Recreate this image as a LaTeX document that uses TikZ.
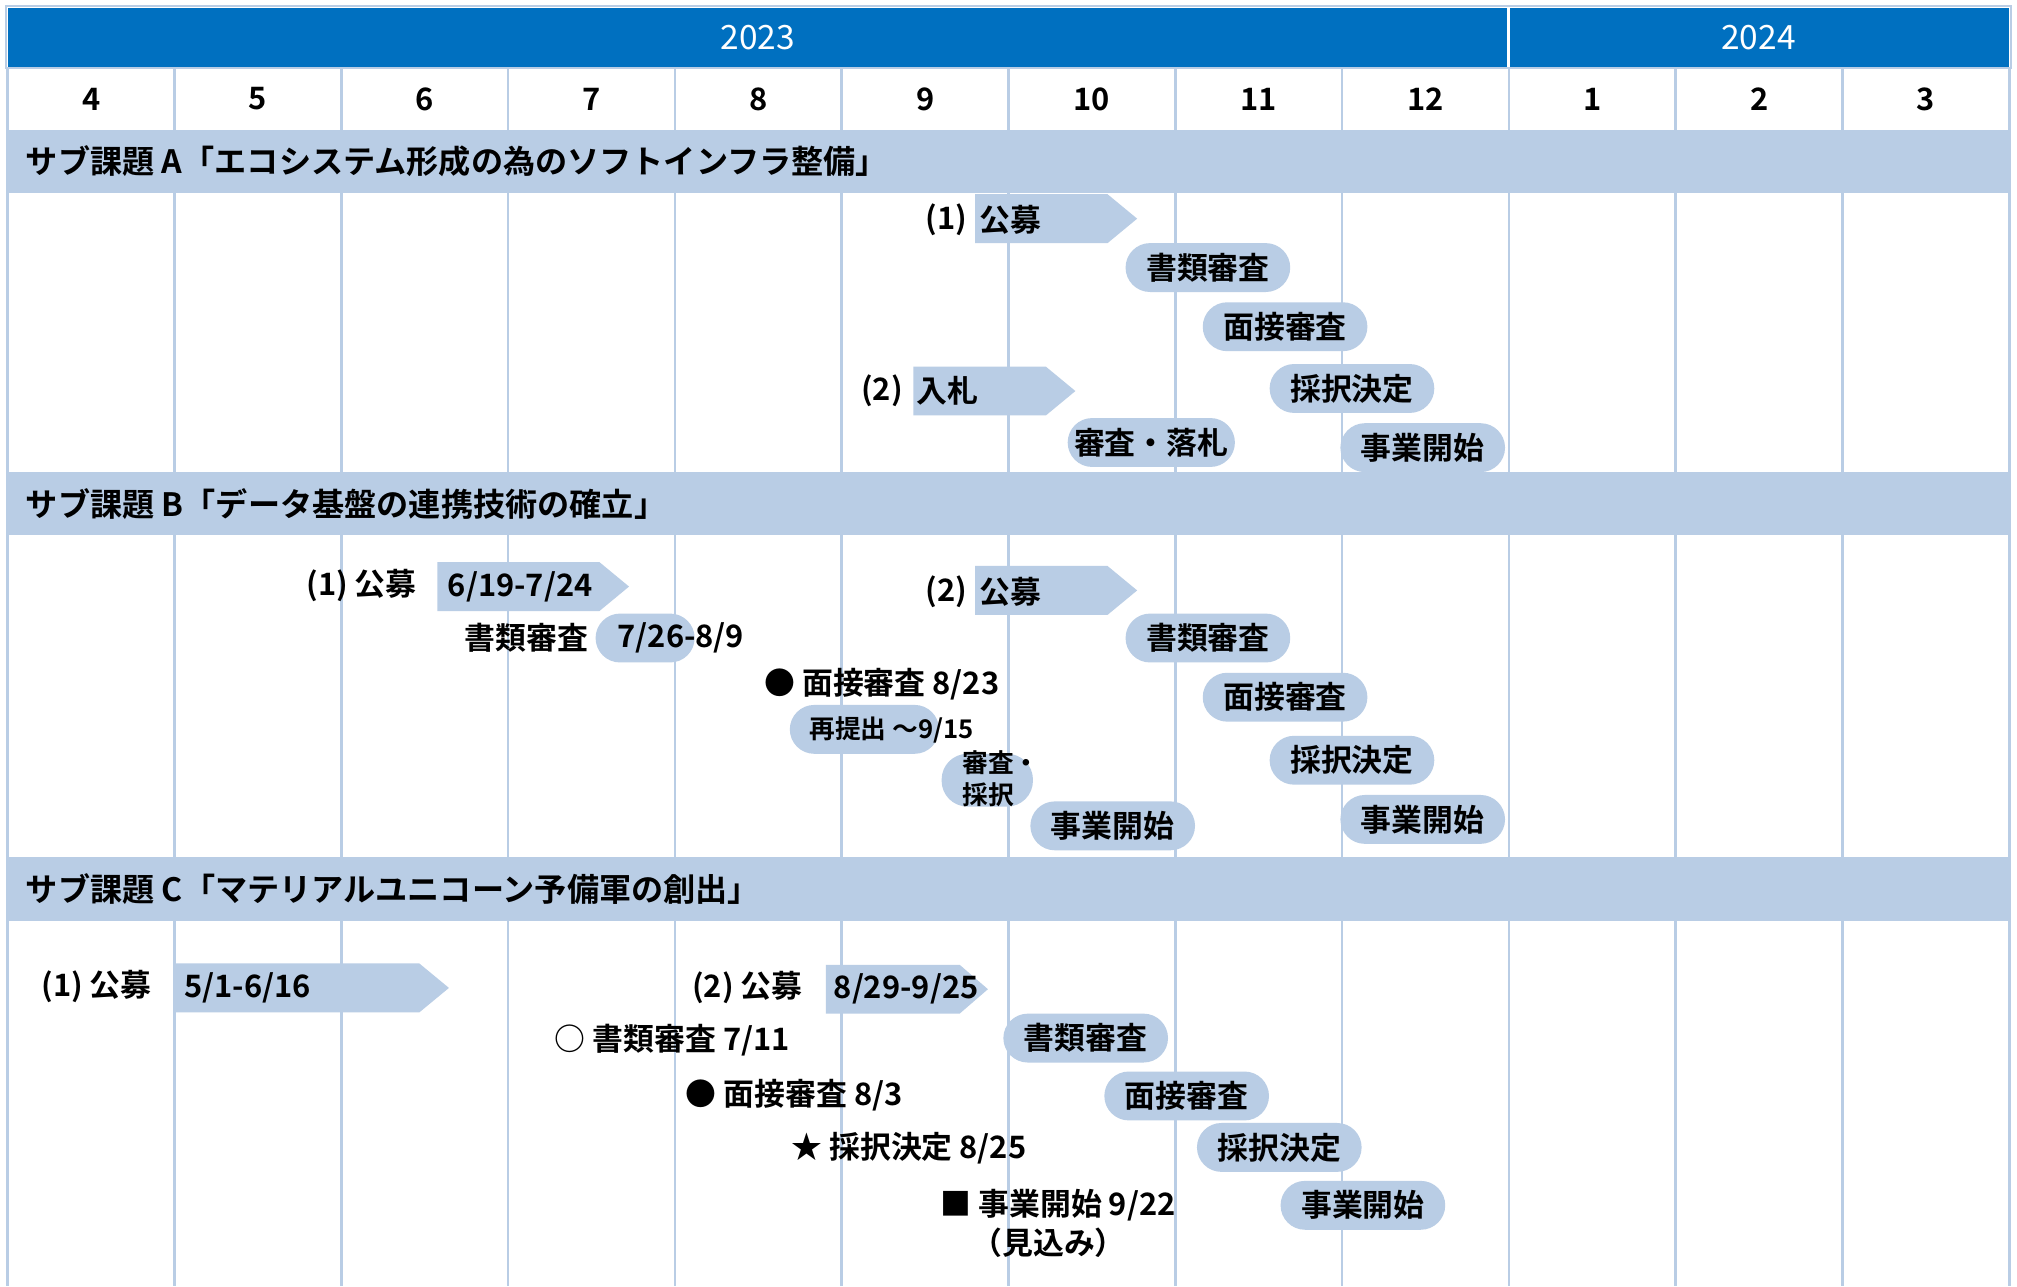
\documentclass[tikz,border=0pt]{standalone}
\usepackage{fontspec}
\setmainfont{Noto Sans CJK JP}[BoldFont={Noto Sans CJK JP Bold}]
\definecolor{dblue}{HTML}{0070C0}
\definecolor{lblue}{HTML}{B9CDE5}
\begin{document}
\begin{tikzpicture}[x=1pt,y=-1pt,
  gridline/.style={draw=lblue,line width=2pt},
  pill/.style={fill=lblue,rounded corners=19pt,minimum height=38pt,minimum width=128pt,inner sep=0pt,font=\bfseries\fontsize{24}{28}\selectfont},
  txt/.style={inner sep=0pt,anchor=west,font=\bfseries\fontsize{24}{28}\selectfont},
  txte/.style={inner sep=0pt,anchor=east,font=\bfseries\fontsize{24}{28}\selectfont},
  smalltxt/.style={inner sep=0pt,anchor=west,font=\bfseries\fontsize{20}{24}\selectfont},
  hdr/.style={inner sep=0pt,anchor=west,font=\bfseries\fontsize{25}{29}\selectfont},
  mon/.style={inner sep=0pt,font=\bfseries\fontsize{24}{28}\selectfont},
  yr/.style={inner sep=0pt,text=white,font=\fontsize{26}{30}\selectfont},
  barfill/.style={fill=lblue}
]
\useasboundingbox (0,0) rectangle (1568,1000);
\fill[white] (0,0) rectangle (1568,1000);

% grid
\foreach \i in {0,...,12} \draw[gridline] ({6+129.667*\i},53) -- ({6+129.667*\i},1000);
\draw[gridline] (6,53) -- (1562,53);
\draw[lblue,line width=1.5pt] (5,5) rectangle (1563,53);
\fill[dblue] (6,6) rectangle (1562,52);
\draw[white,line width=2pt] (1172.7,6) -- (1172.7,52);
\node[yr] (y2023) at (589,29) {2023};
\node[yr] (y2024) at (1367,29) {2024};

% months
\foreach \m [count=\i from 0] in {4,5,6,7,8,9,10,11,12,1,2,3}
  \node[mon] (m\i) at ({6+129.667*(\i+0.5)},77) {\m};

% section headers
\fill[lblue] (5,101) rectangle (1563,150);
\fill[lblue] (5,367) rectangle (1563,416);
\fill[lblue] (5,666) rectangle (1563,716);
\node[hdr] (hA) at (20,125.5) {サブ課題 A「エコシステム形成の為のソフトインフラ整備」};
\node[hdr] (hB) at (20,391.5) {サブ課題 B「データ基盤の連携技術の確立」};
\node[hdr] (hC) at (20,691) {サブ課題 C「マテリアルユニコーン予備軍の創出」};

% ---------- Sub A ----------
\fill[barfill] (758,151) -- (861,151) -- (884,170) -- (861,189) -- (758,189) -- cycle;
\node[txte] (a1n) at (752,171) {(1)};
\node[txt] (a1t) at (761,171) {公募};
\fill[barfill] (710,285) -- (813,285) -- (836,304) -- (813,323) -- (710,323) -- cycle;
\node[txte] (a2n) at (702,304) {(2)};
\node[txt] (a2t) at (712,304) {入札};
\node[pill] (aSho) at (939,208) {書類審査};
\node[pill] (aMen) at (999,254) {面接審査};
\node[pill] (aSai) at (1051,302) {採択決定};
\node[pill,minimum width=130pt] (aShin) at (895,344) {審査・落札};
\node[pill] (aJig) at (1106,348) {事業開始};

% ---------- Sub B ----------
\fill[barfill] (340,437) -- (466,437) -- (489,456) -- (466,475) -- (340,475) -- cycle;
\node[txt] (b1n) at (238,455) {(1) 公募};
\node[txt] (b1t) at (348,456) {6/19-7/24};
\node[txt] (b1sl) at (361,496) {書類審査};
\node[pill,minimum width=77pt] (b1sho) at (501.5,496) {};
\node[txt] (b1st) at (480,496) {7/26-8/9};
\node[txt] (b1men) at (594,532) {● 面接審査 8/23};
\node[pill,minimum width=116pt] (b1sai) at (672,567) {};
\node[smalltxt] (b1sait) at (629,567.5) {再提出 ～9/15};
\node[pill,minimum width=71pt,minimum height=41pt,rounded corners=20pt] (b1shin) at (767.5,606.5) {};
\node[smalltxt] (b1shin1) at (748,593) {審査・};
\node[smalltxt] (b1shin2) at (748,618) {採択};
\node[pill] (b1jig) at (865,642) {事業開始};

\fill[barfill] (758,440) -- (861,440) -- (884,459) -- (861,478) -- (758,478) -- cycle;
\node[txte] (b2n) at (752,460) {(2)};
\node[txt] (b2t) at (761,460) {公募};
\node[pill] (b2Sho) at (939,496) {書類審査};
\node[pill] (b2Men) at (999,542) {面接審査};
\node[pill] (b2Sai) at (1051,591) {採択決定};
\node[pill] (b2Jig) at (1106,637) {事業開始};

% ---------- Sub C ----------
\fill[barfill] (135,749) -- (326,749) -- (349,768) -- (326,787) -- (135,787) -- cycle;
\node[txt] (c1n) at (32,767) {(1) 公募};
\node[txt] (c1t) at (143,768) {5/1-6/16};
\fill[barfill] (642,750) -- (746,750) -- (768,769) -- (746,788) -- (642,788) -- cycle;
\node[txt] (c2n) at (538,768) {(2) 公募};
\node[txt] (c2t) at (648,769) {8/29-9/25};
\node[txt] (c1sho) at (431,808.5) {○ 書類審査 7/11};
\node[txt] (c1men) at (533,851) {● 面接審査 8/3};
\node[txt] (c1sai) at (615,892.5) {★ 採択決定 8/25};
\node[txt] (c1jig) at (731,937) {■ 事業開始 9/22};
\node[txt] (c1mik) at (755,966) {（見込み）};
\node[pill] (c2Sho) at (844,807) {書類審査};
\node[pill] (c2Men) at (922.5,852) {面接審査};
\node[pill] (c2Sai) at (994.5,892) {採択決定};
\node[pill] (c2Jig) at (1059.5,937) {事業開始};
\end{tikzpicture}
\end{document}
